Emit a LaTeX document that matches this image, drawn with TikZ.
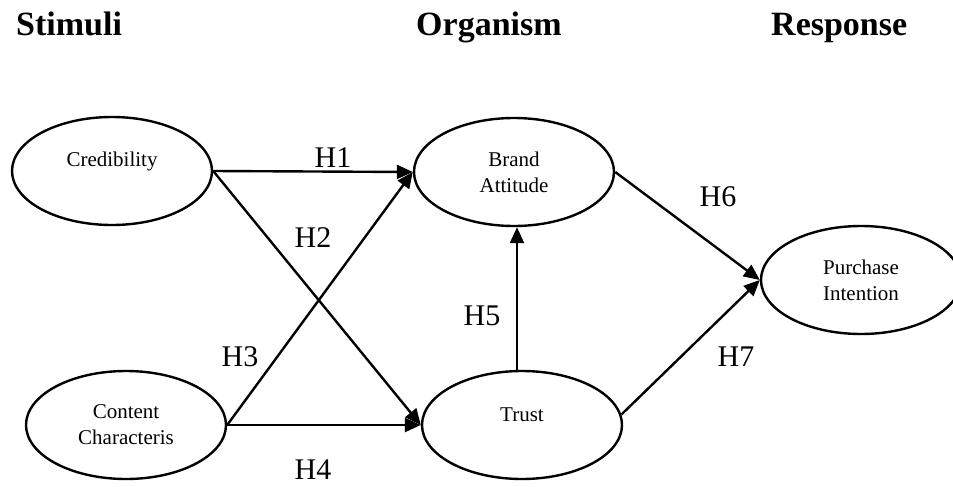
\documentclass[tikz,border=0pt]{standalone}
\usepackage{fontspec}
\setmainfont{Liberation Serif}
\usetikzlibrary{arrows.meta,shapes.geometric}
\begin{document}
\begin{tikzpicture}[x=1pt,y=-1pt,
  construct/.style={draw,ellipse,line width=2.4pt,minimum width=200pt,minimum height=108pt,inner sep=0pt,align=center,font=\fontsize{21}{26}\selectfont},
  single/.style={label={[yshift=10pt,font=\fontsize{21}{26}\selectfont]center:#1}},
  hyp/.style={font=\fontsize{30}{34}\selectfont},
  head/.style={font=\fontsize{34}{40}\selectfont\bfseries,anchor=base west,inner sep=0pt},
  arr/.style={line width=2.4pt,-{Triangle[length=16pt,width=14pt]}}]
\useasboundingbox (0,0) rectangle (953,487);
% headers
\node[head] (hs) at (16,36) {Stimuli};
\node[head] (ho) at (416,36) {Organism};
\node[head] (hr) at (771,36) {Response};
% constructs
\node[construct,single=Credibility] (cred) at (112,171) {};
\node[construct] (cont) at (126,425) {Content\\Characteris};
\node[construct] (brand) at (514,172) {Brand\\Attitude};
\node[construct,single=Trust] (trust) at (522,425) {};
\node[construct] (purch) at (861,280) {Purchase\\Intention};
% paths
\draw[arr] (cred.east) -- (brand.west);
\draw[arr] (cred.east) -- (trust.west);
\draw[arr] (cont.east) -- (brand.west);
\draw[arr] (cont.east) -- (trust.west);
\draw[arr] ([xshift=-5pt]trust.north) -- ([xshift=-5pt]trust.north |- brand.south);
\draw[arr] (brand.east) -- (purch.west);
\draw[arr] (trust.6) -- (purch.west);
% labels
\node[hyp] (h1) at (333,158) {H1};
\node[hyp] (h2) at (313,238) {H2};
\node[hyp] (h3) at (240,357) {H3};
\node[hyp] (h4) at (313,470) {H4};
\node[hyp] (h5) at (482,316) {H5};
\node[hyp] (h6) at (718,197) {H6};
\node[hyp] (h7) at (736,357) {H7};
\end{tikzpicture}
\end{document}
